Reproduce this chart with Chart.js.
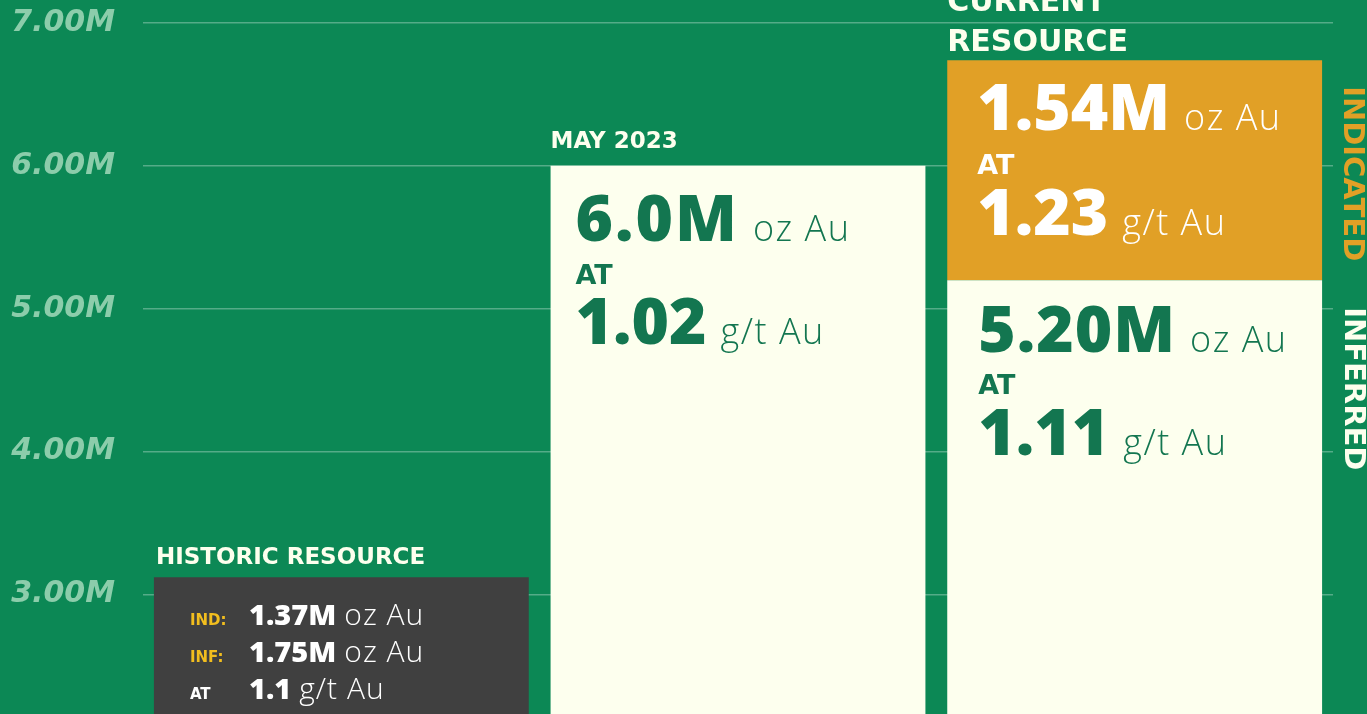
<!DOCTYPE html>
<html>
<head>
<meta charset="utf-8">
<script src="https://cdn.jsdelivr.net/npm/chart.js@4.4.0/dist/chart.umd.min.js"></script>
<style>
  html, body { margin: 0; padding: 0; background: #0c8855; overflow: hidden; }
  #wrap { position: relative; width: 1367px; height: 1092px; margin-top: -23px; }
</style>
</head>
<body>
<div id="wrap"><canvas id="c"></canvas></div>
<script>
// ---- data ----
const categories = ['HISTORIC RESOURCE', 'MAY 2023', 'CURRENT RESOURCE'];
const baseValues = [3.12, 6.0, 5.20];          // historic total, May 2023, current inferred
const indicatedValues = [null, null, 1.54];    // current indicated
const yMin = 0, yMax = 7, yStep = 1;

const historicLines = [
  { label: 'IND:', num: '1.37M', unit: 'oz Au' },
  { label: 'INF:', num: '1.75M', unit: 'oz Au' },
  { label: 'AT',   num: '1.1',   unit: 'g/t Au' }
];
const mayLines = { oz: '6.0M', grade: '1.02' };
const indicatedLines = { oz: '1.54M', grade: '1.23' };
const inferredLines = { oz: '5.20M', grade: '1.11' };

// ---- styles ----
const CREAM = '#fdffee';
const ORANGE = '#e1a026';
const GRAY = '#404040';
const DKGREEN = '#137650';
const YELLOW = '#f2be1e';
const HEAD = '"DejaVu Sans", sans-serif';
const NUM = '"Open Sans", "DejaVu Sans", sans-serif';

function drawPair(ctx, x, y, num, unit, color, numSize, unitSize, gap, numSp, unitSp) {
  ctx.fillStyle = color;
  ctx.font = `800 ${numSize}px ${NUM}`;
  ctx.letterSpacing = numSp + 'px';
  ctx.fillText(num, x, y);
  const w = ctx.measureText(num).width;
  ctx.font = `300 ${unitSize}px ${NUM}`;
  ctx.letterSpacing = unitSp + 'px';
  ctx.fillText(unit, x + w + gap, y);
  ctx.letterSpacing = '0px';
}

const textPlugin = {
  id: 'texts',
  afterDatasetsDraw(chart) {
    const ctx = chart.ctx;
    const m0 = chart.getDatasetMeta(0).data;
    const m1 = chart.getDatasetMeta(1).data;
    ctx.save();
    ctx.textAlign = 'left';
    ctx.textBaseline = 'alphabetic';

    // Historic
    let b = m0[0], L = b.x - b.width / 2, T = b.y;
    ctx.fillStyle = CREAM;
    ctx.font = `bold 23px ${HEAD}`;
    ctx.fillText(categories[0], L + 2, T - 13);
    historicLines.forEach((ln, i) => {
      const y = T + 48 + i * 37;
      ctx.fillStyle = i < 2 ? YELLOW : '#ffffff';
      ctx.font = `bold 15px ${HEAD}`;
      ctx.fillText(ln.label, L + 36, y);
      drawPair(ctx, L + 95, y, ln.num, ln.unit, '#ffffff', 29, 30, 8, 0, 1);
    });

    // May 2023
    b = m0[1]; L = b.x - b.width / 2; T = b.y;
    ctx.fillStyle = CREAM;
    ctx.font = `bold 23px ${HEAD}`;
    ctx.fillText(categories[1], L, T - 18);
    drawPair(ctx, L + 25, T + 75, mayLines.oz, 'oz Au', DKGREEN, 64, 36, 14, 2, 1.5);
    ctx.fillStyle = DKGREEN;
    ctx.font = `bold 27px ${HEAD}`;
    ctx.fillText('AT', L + 25, T + 118);
    drawPair(ctx, L + 25, T + 178, mayLines.grade, 'g/t Au', DKGREEN, 64, 36, 14, 0, 1.5);

    // Current - indicated (orange)
    b = m1[2]; L = b.x - b.width / 2; T = b.y;
    ctx.fillStyle = CREAM;
    ctx.font = `bold 30px ${HEAD}`;
    ctx.fillText('CURRENT', L, T - 49);
    ctx.fillText('RESOURCE', L, T - 9);
    drawPair(ctx, L + 30, T + 70, indicatedLines.oz, 'oz Au', '#ffffff', 64, 36, 14, 0, 1.5);
    ctx.fillStyle = '#ffffff';
    ctx.font = `bold 27px ${HEAD}`;
    ctx.fillText('AT', L + 30, T + 114);
    drawPair(ctx, L + 30, T + 175, indicatedLines.grade, 'g/t Au', '#ffffff', 64, 36, 14, 0, 1.5);
    const indTop = T, R = b.x + b.width / 2;

    // Current - inferred (cream)
    b = m0[2]; L = b.x - b.width / 2; T = b.y;
    drawPair(ctx, L + 31, T + 72, inferredLines.oz, 'oz Au', DKGREEN, 64, 36, 14, 1, 1.5);
    ctx.fillStyle = DKGREEN;
    ctx.font = `bold 27px ${HEAD}`;
    ctx.fillText('AT', L + 31, T + 114);
    drawPair(ctx, L + 31, T + 175, inferredLines.grade, 'g/t Au', DKGREEN, 64, 36, 14, 0, 1.5);

    // rotated side labels
    ctx.font = `bold 29px ${HEAD}`;
    ctx.textBaseline = 'middle';
    ctx.save();
    ctx.translate(R + 29, indTop + 26);
    ctx.rotate(Math.PI / 2);
    ctx.fillStyle = ORANGE;
    ctx.fillText('INDICATED', 0, 0);
    ctx.restore();
    ctx.save();
    ctx.translate(R + 30, T + 27);
    ctx.rotate(Math.PI / 2);
    ctx.fillStyle = CREAM;
    ctx.fillText('INFERRED', 0, 0);
    ctx.restore();

    ctx.restore();
  }
};

new Chart(document.getElementById('c'), {
  type: 'bar',
  data: {
    labels: categories,
    datasets: [
      {
        label: 'Base',
        data: baseValues,
        backgroundColor: [GRAY, CREAM, CREAM],
        borderWidth: 0,
        barPercentage: 0.945,
        categoryPercentage: 1.0,
        stack: 's'
      },
      {
        label: 'Indicated',
        data: indicatedValues,
        backgroundColor: ORANGE,
        borderWidth: 0,
        barPercentage: 0.945,
        categoryPercentage: 1.0,
        stack: 's'
      }
    ]
  },
  options: {
    responsive: true,
    maintainAspectRatio: false,
    animation: false,
    devicePixelRatio: 1,
    layout: { padding: { top: 0, right: 34, left: 0, bottom: 0 } },
    plugins: { legend: { display: false }, tooltip: { enabled: false } },
    scales: {
      x: { display: false, stacked: true },
      y: {
        stacked: true,
        min: yMin, max: yMax,
        afterFit(scale) { scale.width = 143; },
        border: { display: false },
        grid: { color: 'rgba(255,255,255,0.3)', lineWidth: 1.5, drawTicks: false },
        ticks: {
          stepSize: yStep,
          padding: 28,
          color: '#8ccdab',
          font: { family: 'DejaVu Sans', size: 30, weight: 'bold', style: 'italic' },
          callback: v => v.toFixed(2) + 'M'
        }
      }
    }
  },
  plugins: [textPlugin]
});
</script>
</body>
</html>
